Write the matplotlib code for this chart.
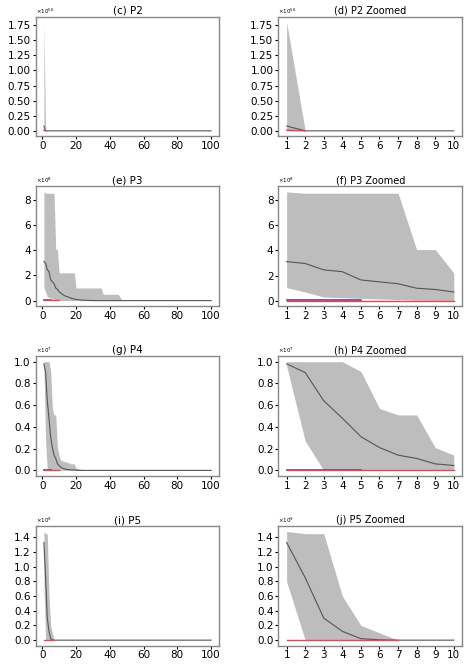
import matplotlib.pyplot as plt
import numpy as np

# first values of each run curve (after these everything sits at 0)
p2_mean = [0.08, 0.0]
p2_lo = [0.0, 0.0]
p2_hi = [1.80, 0.0]
p2_red = [0.01, 0.0]

p3_mean = [3.1, 2.95, 2.45, 2.3, 1.65, 1.5, 1.35, 1.0, 0.9, 0.7, 0.6, 0.5, 0.4, 0.35, 0.3,
           0.25, 0.2, 0.15, 0.12, 0.1, 0.08, 0.06, 0.05, 0.04, 0.03, 0.02, 0.02, 0.01, 0.01, 0.01]
p3_lo = [1.05, 0.7, 0.3, 0.25, 0.2, 0.15, 0.1, 0.05, 0.03, 0.02] + [0.0] * 20
p3_hi = [8.6, 8.5, 8.5, 8.5, 8.5, 8.5, 8.5, 4.05, 4.05, 2.2, 2.2, 2.2, 2.2, 2.2, 2.2,
         2.2, 2.2, 2.2, 2.2, 1.0, 1.0, 1.0, 1.0, 1.0, 1.0, 1.0, 1.0, 1.0, 1.0, 1.0]
p3_hi_tail = [1.0] * 5 + [0.5] * 10 + [0.3, 0.1, 0.0]
p3_blue = [0.08] * 5
p3_red = [0.02] * 10

p4_mean = [0.98, 0.9, 0.64, 0.48, 0.31, 0.21, 0.14, 0.11, 0.06, 0.045, 0.03, 0.02, 0.015,
           0.01, 0.008, 0.006, 0.005, 0.004, 0.003, 0.002]
p4_lo = [0.96, 0.27, 0.0, 0.0, 0.0, 0.0, 0.0, 0.0, 0.0, 0.0]
p4_hi = [1.0, 1.0, 1.0, 1.0, 0.91, 0.57, 0.51, 0.51, 0.21, 0.14, 0.09, 0.09, 0.08, 0.08,
         0.07, 0.07, 0.06, 0.06, 0.06, 0.02, 0.02, 0.01, 0.01, 0.01, 0.005]
p4_blue = [0.008] * 5
p4_red = [0.005] * 10

p5_mean = [1.33, 0.85, 0.3, 0.12, 0.02, 0.005, 0.0]
p5_lo = [0.8, 0.0, 0.0, 0.0, 0.0, 0.0, 0.0]
p5_hi = [1.48, 1.45, 1.45, 0.6, 0.2, 0.1, 0.0]
p5_red = [0.005] * 7

problems = [
    ("P2", "(c)", "(d)", 1e56, p2_mean, p2_lo, p2_hi, None, p2_red, [0, 0.25, 0.5, 0.75, 1.0, 1.25, 1.5, 1.75], "%.2f"),
    ("P3", "(e)", "(f)", 1e8, p3_mean, p3_lo, p3_hi + p3_hi_tail, p3_blue, p3_red, [0, 2, 4, 6, 8], "%d"),
    ("P4", "(g)", "(h)", 1e7, p4_mean, p4_lo, p4_hi, p4_blue, p4_red, [0, 0.2, 0.4, 0.6, 0.8, 1.0], "%.1f"),
    ("P5", "(i)", "(j)", 1e9, p5_mean, p5_lo, p5_hi, None, p5_red, [0, 0.2, 0.4, 0.6, 0.8, 1.0, 1.2, 1.4], "%.1f"),
]

iters = np.arange(1, 101)


def pad(v):
    return np.array(list(v) + [0.0] * (100 - len(v)))


fig, axes = plt.subplots(4, 2, figsize=(4.74, 6.69), dpi=100)
for row, (name, la, lb, scale, mean, lo, hi, blue, red, yt, fmt) in enumerate(problems):
    mean, lo, hi = pad(mean), pad(lo), pad(hi)
    exps = int(round(np.log10(scale)))
    for col, n in enumerate([100, 10]):
        ax = axes[row, col]
        ax.fill_between(iters[:n], lo[:n], hi[:n], color='#bdbdbd', lw=0)
        ax.plot(iters[:n], mean[:n], color='#555555', lw=0.8)
        if blue is not None:
            ax.plot(iters[:len(blue)], blue, color='#5a3fa0', lw=1.2)
        ax.plot(iters[:min(n, len(red))], red[:n], color='#e8474f', lw=1.0)
        ax.set_yticks(yt)
        ax.set_yticklabels([fmt % t for t in yt])
        if col == 0:
            ax.set_xticks([0, 20, 40, 60, 80, 100])
            ax.set_title(f"{la} {name}", fontsize=7.5, pad=2)
        else:
            ax.set_xticks(range(1, 11))
            ax.set_title(f"{lb} {name} Zoomed", fontsize=7, pad=2)
        ax.tick_params(labelsize=7.5, length=2, pad=1.5)
        ax.text(0.0, 1.01, r"$\times10^{%d}$" % exps, transform=ax.transAxes, fontsize=4, va='bottom')
        for s in ax.spines.values():
            s.set_color('#888888')
            s.set_linewidth(1.0)

fig.subplots_adjust(left=0.075, right=0.975, top=0.975, bottom=0.035, wspace=0.32, hspace=0.42)
fig.savefig("out.png")
